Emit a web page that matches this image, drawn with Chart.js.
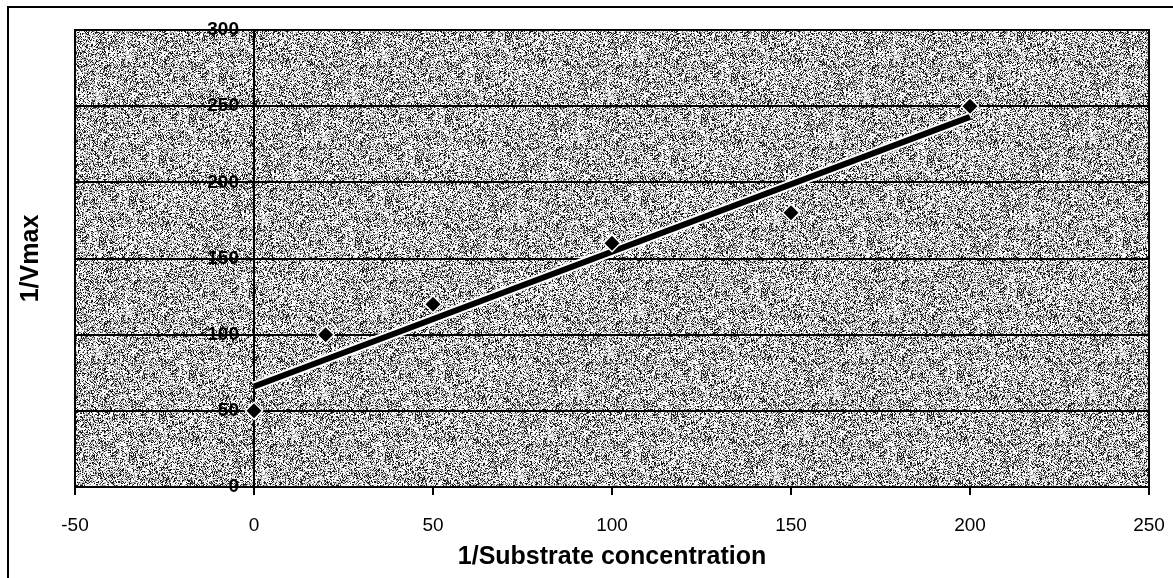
<!DOCTYPE html>
<html>
<head>
<meta charset="utf-8">
<script src="https://cdn.jsdelivr.net/npm/chart.js@4.4.1/dist/chart.umd.min.js"></script>
<style>
  body { margin: 0; background: #fff; }
  canvas { display: block; }
</style>
</head>
<body>
<canvas id="myChart" width="1173" height="578"></canvas>
<script>
"use strict";

// data
var substrate = [0, 20, 50, 100, 150, 200];
var vmaxInv = [50, 100, 120, 160, 180, 250];
var trendX = [0, 200];
var trendY = [66, 243];

var points = substrate.map(function (x, i) { return { x: x, y: vmaxInv[i] }; });
var trend = trendX.map(function (x, i) { return { x: x, y: trendY[i] }; });

var FONT = '"Liberation Sans", Arial, sans-serif';

// grainy grey texture like the scanned plot area
function makeGrain() {
    var c = document.createElement('canvas');
    c.width = 256;
    c.height = 256;
    var g = c.getContext('2d');
    var img = g.createImageData(256, 256);
    var seed = 12345;
    for (var i = 0; i < 256 * 256; i++) {
        seed = (seed * 1103515245 + 12345) & 0x7fffffff;
        var r = seed / 0x7fffffff;
        var v = r < 0.22 ? 25 : r < 0.36 ? 120 : r < 0.54 ? 190 : 252;
        img.data[i * 4] = v;
        img.data[i * 4 + 1] = v;
        img.data[i * 4 + 2] = v;
        img.data[i * 4 + 3] = 255;
    }
    g.putImageData(img, 0, 0);
    return c;
}
var grain = makeGrain();

var frame = {
    id: 'frame',
    beforeDraw: function (chart) {
        var c = chart.ctx;
        var a = chart.chartArea;
        c.save();
        c.fillStyle = '#fff';
        c.fillRect(0, 0, chart.width, chart.height);
        // outer border, only top and left are in the picture
        c.strokeStyle = '#000';
        c.lineWidth = 2;
        c.beginPath();
        c.moveTo(8, chart.height);
        c.lineTo(8, 7);
        c.lineTo(chart.width, 7);
        c.stroke();
        c.fillStyle = c.createPattern(grain, 'repeat');
        c.fillRect(a.left, a.top, a.right - a.left, a.bottom - a.top);
        c.restore();
    },
    afterDraw: function (chart) {
        var c = chart.ctx;
        var a = chart.chartArea;
        var xs = chart.scales.x;
        var ys = chart.scales.y;
        c.save();
        c.strokeStyle = '#000';
        c.lineWidth = 2;
        c.strokeRect(a.left, a.top, a.right - a.left, a.bottom - a.top);
        // y tick labels sit just left of the axis at x = 0
        c.fillStyle = '#000';
        c.font = 'bold 19px ' + FONT;
        c.textAlign = 'right';
        c.textBaseline = 'middle';
        var axisX = xs.getPixelForValue(0);
        ys.ticks.forEach(function (t) {
            c.fillText(String(t.value), axisX - 15, ys.getPixelForValue(t.value));
        });
        c.font = 'bold 25px ' + FONT;
        c.textAlign = 'center';
        c.translate(31, (a.top + a.bottom) / 2);
        c.rotate(-Math.PI / 2);
        c.fillText('1/Vmax', 0, 0);
        c.restore();
    }
};

var ctx = document.querySelector('#myChart').getContext('2d');

var myChart = new Chart(ctx, {
    type: 'scatter',
    data: {
        datasets: [{
            data: points,
            pointStyle: 'rectRot',
            pointRadius: 8.5,
            pointBackgroundColor: '#000',
            pointBorderColor: '#fff',
            pointBorderWidth: 1.5,
            showLine: false,
            order: 0
        }, {
            type: 'line',
            data: trend,
            borderColor: '#000',
            borderWidth: 6,
            pointRadius: 0,
            order: 1
        }, {
            type: 'line',
            data: trend,
            borderColor: '#fff',
            borderWidth: 10,
            pointRadius: 0,
            order: 2
        }]
    },
    options: {
        responsive: false,
        animation: false,
        events: [],
        layout: {
            padding: { left: 75, top: 30, right: 24, bottom: 0 }
        },
        plugins: {
            legend: false,
            tooltip: { enabled: false }
        },
        scales: {
            x: {
                type: 'linear',
                min: -50,
                max: 250,
                position: 'bottom',
                afterFit: function (s) {
                    s.height = 91;
                    s.paddingLeft = 0;
                    s.paddingRight = 0;
                },
                ticks: {
                    stepSize: 50,
                    padding: 19,
                    color: '#000',
                    font: { family: FONT, size: 19 }
                },
                grid: {
                    drawOnChartArea: false,
                    drawTicks: true,
                    tickLength: 8,
                    color: '#000',
                    lineWidth: 2
                },
                border: { color: '#000', width: 2 },
                title: {
                    display: true,
                    text: '1/Substrate concentration',
                    color: '#000',
                    padding: { top: 0, bottom: 6 },
                    font: { family: FONT, size: 25, weight: 'bold' }
                }
            },
            y: {
                type: 'linear',
                min: 0,
                max: 300,
                position: { x: 0 },
                ticks: {
                    stepSize: 50,
                    display: false
                },
                grid: {
                    drawTicks: false,
                    color: '#000',
                    lineWidth: 2
                },
                border: { color: '#000', width: 2 }
            }
        }
    },
    plugins: [frame]
});
</script>
</body>
</html>
